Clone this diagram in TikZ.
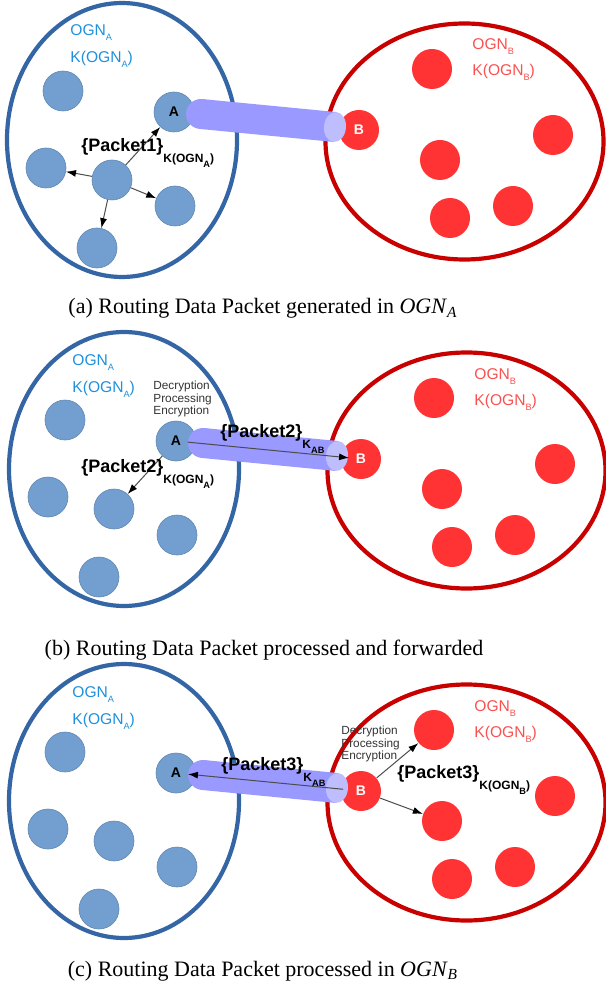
\documentclass[tikz,border=0pt]{standalone}
\usepackage{fontspec}
\setmainfont{Liberation Serif}
\setsansfont{Liberation Sans}
\usetikzlibrary{arrows.meta}

\definecolor{ognblue}{RGB}{52,101,164}
\definecolor{nodeblue}{RGB}{114,159,207}
\definecolor{ognred}{RGB}{201,0,0}
\definecolor{nodered}{RGB}{255,51,51}
\definecolor{tubecol}{RGB}{153,153,255}
\definecolor{tubeend}{RGB}{190,190,255}
\definecolor{txtblue}{RGB}{30,144,220}
\definecolor{txtred}{RGB}{250,80,80}

\newcommand{\lsub}[1]{\raisebox{-2.5pt}{\fontsize{4.6}{4.6}\selectfont #1}}
\newcommand{\pkt}[2]{{\fontsize{9}{10}\selectfont\bfseries\{#1\}}\raisebox{-5.5pt}{\fontsize{6}{6}\selectfont\bfseries #2}}

\begin{document}
\begin{tikzpicture}[x=0.5pt,y=-0.5pt,
    net/.style={line width=2.1pt},
    bnode/.style={circle,minimum size=20pt,inner sep=0pt,fill=nodeblue,draw=nodeblue!85!black,line width=0.3pt,font=\sffamily\bfseries\fontsize{7}{8}\selectfont},
    rnode/.style={circle,minimum size=20pt,inner sep=0pt,fill=nodered,text=white,font=\sffamily\bfseries\fontsize{7}{8}\selectfont},
    tube/.style={draw=tubecol,line width=15pt},
    msg/.style={draw=black!70,line width=0.5pt,-{Latex[length=5pt,width=3.5pt,black]}},
    ogna/.style={anchor=base west,inner sep=0pt,text=txtblue,font=\sffamily\fontsize{7.8}{8}\selectfont},
    ognb/.style={ogna,text=txtred},
    pktlabel/.style={anchor=base west,inner sep=0pt,font=\sffamily},
    steps/.style={anchor=north west,inner sep=0pt,align=left,text=black!80,font=\sffamily\fontsize{5.9}{6.25}\selectfont},
    caption/.style={anchor=base,inner sep=0pt,font=\fontsize{11}{13}\selectfont}]
    \useasboundingbox (0,0) rectangle (605,994);
    % the two networks, once for each panel
    \foreach \p/\dx/\dy in {a/0/0,b/2/329,c/2/661}{
    \begin{scope}[shift={(\dx,\dy)}]
        \draw [net,draw=ognblue] (122,140) ellipse [x radius=115,y radius=137];
        \draw [net,draw=ognred] (464.5,141.5) ellipse [x radius=139,y radius=118];
        \node [bnode] (bl1\p) at (63,91) {};
        \node [bnode] (A\p) at (174,112) {A};
        \node [bnode] (bl2\p) at (46,168) {};
        \node [bnode] (bl3\p) at (112,180) {};
        \node [bnode] (bl4\p) at (175,206) {};
        \node [bnode] (bl5\p) at (97,248) {};
        \node [rnode] (rd1\p) at (432,69) {};
        \node [rnode] (B\p) at (359,130) {B};
        \node [rnode] (rd2\p) at (553,135) {};
        \node [rnode] (rd3\p) at (440,160) {};
        \node [rnode] (rd4\p) at (450,218) {};
        \node [rnode] (rd5\p) at (513,206) {};
        \node [ogna] (ogna\p) at (70,36) {OGN\lsub{A}};
        \node [ogna] (koa\p) at (70,63) {K(OGN\lsub{A})};
        \node [ognb] (ognb\p) at (472,50) {OGN\lsub{B}};
        \node [ognb] (kob\p) at (472,76) {K(OGN\lsub{B})};
        % link A -- B
        \coordinate (ta\p) at (201,114);
        \coordinate (tb\p) at (335,127);
        \fill [tubecol] (ta\p) circle (15);
        \draw [tube] (ta\p) -- (tb\p);
        \fill [tubeend,rotate around={-5.5:(tb\p)}] (tb\p) ellipse [x radius=11,y radius=15];
    \end{scope}
    }
    % (a)
    \draw [msg] (bl3a) -- (Aa);
    \draw [msg] (bl3a) -- (bl2a);
    \draw [msg] (bl3a) -- (bl4a);
    \draw [msg] (bl3a) -- (bl5a);
    \node [pktlabel] (pkta) at (81,152) {\pkt{Packet1}{K(OGN\lsub{A})}};
    \node [caption] (capa) at (263,314) {(a) Routing Data Packet generated in \textit{OGN}\textsubscript{\textit{A}}};
    % (b)
    \begin{scope}[shift={(2,329)}]
        \node [steps] (stepsb) at (151,52) {Decryption\\Processing\\Encryption};
        \draw [msg,shorten <=6pt,shorten >=6pt] (Ab.center) -- (Bb.center);
        \node [pktlabel] (pktab) at (218,108) {\pkt{Packet2}{K\lsub{AB}}};
        \draw [msg] (Ab) -- (bl3b);
        \node [pktlabel] (pktb) at (79,143) {\pkt{Packet2}{K(OGN\lsub{A})}};
    \end{scope}
    \node [caption] (capb) at (264,655) {(b) Routing Data Packet processed and forwarded};
    % (c)
    \begin{scope}[shift={(2,661)}]
        \draw [msg,shorten <=9pt,shorten >=6pt] (Bc.center) -- (Ac.center);
        \node [pktlabel] (pktac) at (219,109) {\pkt{Packet3}{K\lsub{AB}}};
        \node [steps] (stepsc) at (339,65) {Decryption\\Processing\\Encryption};
        \draw [msg] (Bc) -- (rd1c);
        \draw [msg] (Bc) -- (rd3c);
        \node [pktlabel] (pktc) at (395,117) {\pkt{Packet3}{K(OGN\lsub{B})}};
    \end{scope}
    \node [caption] (capc) at (263,976) {(c) Routing Data Packet processed in \textit{OGN}\textsubscript{\textit{B}}};
\end{tikzpicture}
\end{document}
